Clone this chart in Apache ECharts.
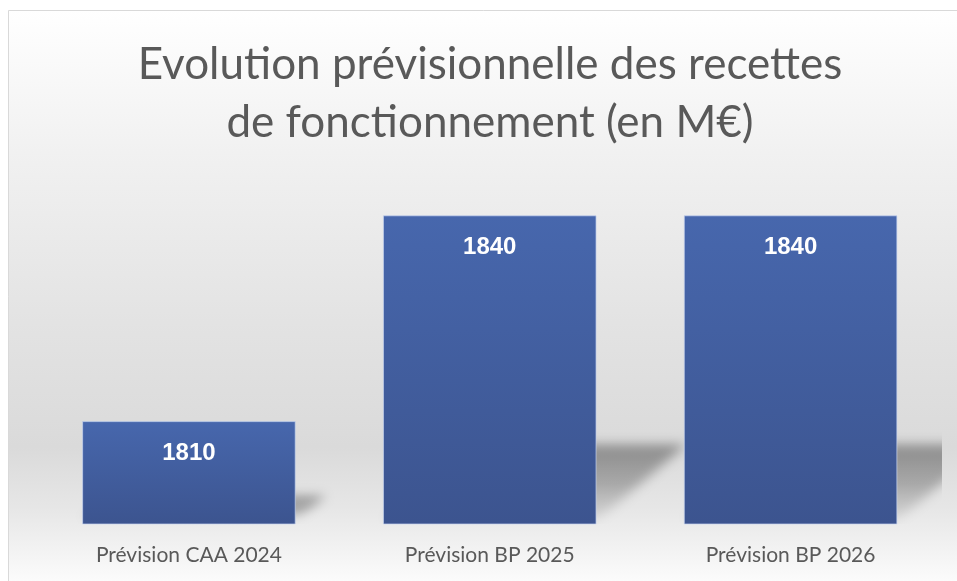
<!DOCTYPE html>
<html>
<head>
<meta charset="utf-8">
<script src="https://cdn.jsdelivr.net/npm/echarts@6/dist/echarts.min.js"></script>
<style>
  html, body { margin: 0; padding: 0; background: #ffffff; }
  #chart { width: 957px; height: 581px; }
</style>
</head>
<body>
<div id="chart"></div>
<script>
const titleText = 'Evolution prévisionnelle des recettes\nde fonctionnement (en M€)';
const categories = ['Prévision CAA 2024', 'Prévision BP 2025', 'Prévision BP 2026'];
const values = [1810, 1840, 1840];
const yMin = 1795;
const yMax = 1845;

const FONT = 'Lato, "Liberation Sans", sans-serif';
const chart = echarts.init(document.getElementById('chart'), null, { renderer: 'canvas' });

const shadowData = categories.map((c, i) => [i, values[i]]);
const BAR_RATIO = 0.71;
const OFF = 2000;

chart.setOption({
  backgroundColor: '#ffffff',
  animation: false,
  title: {
    text: titleText,
    left: 490,
    top: 36,
    textAlign: 'center',
    padding: 0,
    textStyle: {
      fontFamily: FONT,
      fontWeight: 'normal',
      fontSize: 44,
      lineHeight: 58,
      color: '#595959'
    }
  },
  graphic: [
    {
      type: 'rect',
      z: -10,
      silent: true,
      shape: { x: 8.5, y: 10.5, width: 960, height: 590 },
      style: {
        stroke: '#d9d9d9',
        lineWidth: 1,
        fill: new echarts.graphic.LinearGradient(0, 0, 0, 1, [
          { offset: 0, color: '#ffffff' },
          { offset: 0.24, color: '#f1f1f1' },
          { offset: 0.55, color: '#e2e2e2' },
          { offset: 0.74, color: '#dadada' },
          { offset: 0.84, color: '#e6e6e6' },
          { offset: 0.9, color: '#f0f0f0' },
          { offset: 0.97, color: '#fcfcfc' },
          { offset: 1, color: '#ffffff' }
        ])
      }
    }
  ],
  grid: { left: 38.5, right: 16, top: 181, bottom: 57, containLabel: false },
  xAxis: {
    type: 'category',
    data: categories,
    axisLine: { show: false },
    axisTick: { show: false },
    axisLabel: {
      margin: 21,
      fontFamily: FONT,
      fontSize: 21,
      color: '#595959'
    },
    splitLine: { show: false }
  },
  yAxis: {
    type: 'value',
    min: yMin,
    max: yMax,
    show: false,
    splitLine: { show: false }
  },
  series: [
    {
      type: 'custom',
      z: 1,
      clip: true,
      silent: true,
      data: shadowData,
      encode: { x: 0, y: 1 },
      renderItem: function (params, api) {
        const cat = api.value(0);
        const val = api.value(1);
        const top = api.coord([cat, val]);
        const base = api.coord([cat, yMin]);
        const bw = api.size([1, 0])[0] * BAR_RATIO;
        const h = base[1] - top[1];
        const x1 = top[0] - bw / 2 - OFF;
        const x2 = top[0] + bw / 2 - OFF;
        const yb = base[1] - 2;
        const sh = 0.25 * h;
        const dx = 0.29 * h;
        return {
          type: 'polygon',
          shape: { points: [[x1, yb], [x2, yb], [x2 + dx, yb - sh], [x1 + dx, yb - sh]] },
          style: {
            fill: new echarts.graphic.LinearGradient(0, 0, 0, 1, [
              { offset: 0, color: 'rgba(0,0,0,1)' },
              { offset: 0.5, color: 'rgba(0,0,0,0.7)' },
              { offset: 1, color: 'rgba(0,0,0,0.15)' }
            ]),
            shadowBlur: 12,
            shadowOffsetX: OFF,
            shadowColor: 'rgba(0,0,0,0.36)'
          }
        };
      }
    },
    {
      type: 'bar',
      z: 2,
      data: values,
      barWidth: '71%',
      itemStyle: {
        color: new echarts.graphic.LinearGradient(0, 0, 0, 1, [
          { offset: 0, color: '#4767ad' },
          { offset: 1, color: '#3c548f' }
        ]),
        borderColor: 'rgba(200,212,240,0.7)',
        borderWidth: 1
      },
      label: {
        show: true,
        position: 'insideTop',
        distance: 20,
        fontFamily: '"Liberation Sans", sans-serif',
        fontWeight: 'bold',
        fontSize: 24,
        color: '#ffffff'
      }
    }
  ]
});
</script>
</body>
</html>
